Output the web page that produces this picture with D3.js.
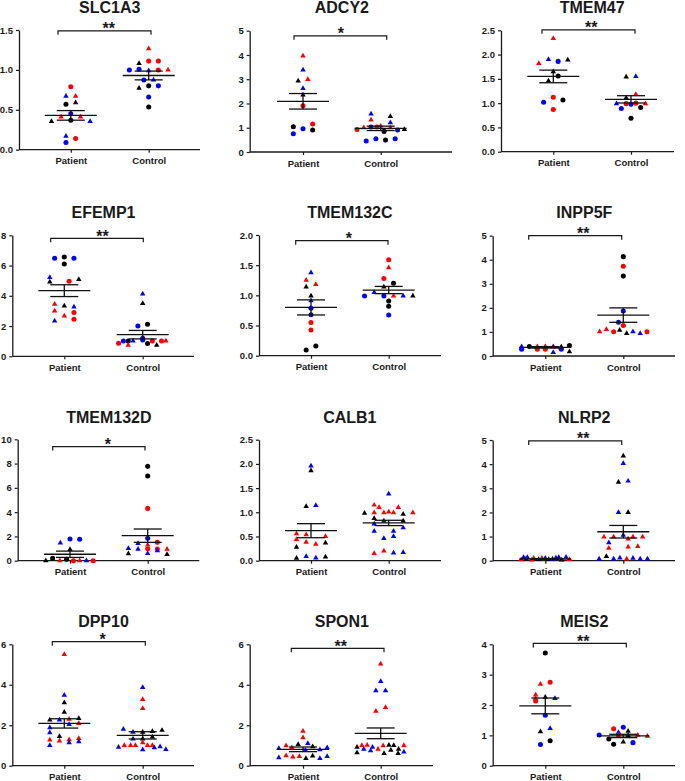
<!DOCTYPE html>
<html><head><meta charset="utf-8">
<script src="https://cdn.jsdelivr.net/npm/d3@7"></script>
<style>
body{margin:0;background:#fff}
svg text{font-family:"Liberation Sans",Arial,sans-serif;font-weight:bold;fill:#1a1a1a}
</style>
</head><body>
<svg id="c" width="685" height="781"></svg>
<script>
// ---------------- DATA ----------------
const genes = ["SLC1A3","ADCY2","TMEM47","EFEMP1","TMEM132C","INPP5F","TMEM132D","CALB1","NLRP2","DPP10","SPON1","MEIS2"];
const groups = ["Patient","Control"];
const yMax  = [1.5,5,2.5,8,2,5,10,2.5,5,6,6,4];
const yStep = [0.5,1,0.5,2,0.5,1,2,0.5,1,2,2,1];
const significance = ["**","*","**","**","*","**","*","","**","*","**","**"];
const bracketLevel = [1.49,4.79,2.51,7.8,1.906,5.0,9.4,null,4.96,6.13,5.8,4.03];
const patientMean = [0.43,2.09,1.55,4.34,0.80,0.36,0.53,0.62,0.07,2.09,0.81,1.97];
const patientSem  = [0.06,0.32,0.13,0.39,0.125,0.03,0.26,0.145,0.015,0.23,0.115,0.26];
const controlMean = [0.93,0.975,1.078,1.43,1.088,1.70,2.06,0.78,1.20,1.50,1.60,0.98];
const controlSem  = [0.055,0.09,0.075,0.28,0.06,0.30,0.55,0.055,0.26,0.18,0.265,0.055];

// points: [value, jitter slot, cohort (R/B/K), sample type (c = circle, t = triangle)]
const SLC1A3_patient = [[0.79,0,"R","c"],[0.67,-1,"B","t"],[0.67,1,"R","t"],[0.57,-1,"K","c"],[0.59,1,"K","t"],[0.41,-2,"R","t"],[0.45,0,"B","c"],[0.41,2,"R","t"],[0.355,-4,"K","t"],[0.37,0,"K","c"],[0.355,4,"B","t"],[0.17,-1,"B","t"],[0.14,1,"R","c"],[0.09,-1,"B","c"]];
const SLC1A3_control = [[1.266,0,"R","t"],[1.11,0,"R","c"],[1.11,2,"R","c"],[1.08,-2,"K","t"],[1.0,-4,"B","c"],[1.007,-2,"B","c"],[0.99,0,"B","t"],[1.0,2,"R","c"],[1.0,4,"R","t"],[0.873,-1,"B","c"],[0.873,1,"B","t"],[0.77,-2,"K","t"],[0.80,0,"K","c"],[0.80,2,"B","c"],[0.66,0,"B","c"],[0.535,0,"K","c"]];
const ADCY2_patient = [[3.96,0,"R","t"],[3.38,0,"B","t"],[2.93,-1,"K","t"],[2.99,1,"R","t"],[2.62,0,"B","t"],[2.35,0,"K","t"],[1.91,0,"R","c"],[1.04,-2,"K","c"],[1.15,2,"R","c"],[0.755,-2,"B","c"],[0.96,0,"B","c"],[0.906,2,"K","c"]];
const ADCY2_control = [[1.57,-2,"B","t"],[1.47,2,"K","t"],[1.32,-2,"R","t"],[1.21,2,"B","t"],[0.93,-4.9,"R","c"],[1.0,-3.5,"R","t"],[1.03,-2,"B","c"],[1.03,-0.8,"R","c"],[1.07,0,"R","t"],[1.0,2,"R","t"],[0.85,0.7,"K","c"],[0.906,3.5,"B","c"],[0.93,4.9,"K","t"],[0.45,-3,"B","c"],[0.55,-1,"B","c"],[0.49,1,"K","c"],[0.55,3,"B","c"]];
const TMEM47_patient = [[2.335,0,"R","t"],[1.82,-3,"R","t"],[1.90,-1,"B","t"],[1.86,1,"B","c"],[1.89,3,"K","t"],[1.65,0,"K","t"],[1.56,1,"K","c"],[1.46,-1,"K","t"],[1.02,-2,"B","c"],[1.12,0,"R","c"],[1.065,2,"K","c"],[0.87,0,"R","c"]];
const TMEM47_control = [[1.54,-1,"K","t"],[1.55,1,"B","t"],[1.18,1,"R","t"],[1.11,-1,"K","t"],[0.99,-3,"B","t"],[0.99,-1,"R","c"],[0.975,0,"B","c"],[1.0,1,"R","c"],[0.99,3,"R","t"],[0.89,-2,"B","c"],[0.91,2,"K","c"],[0.69,0,"K","c"]];
const EFEMP1_patient = [[6.48,-2,"B","c"],[6.57,0,"K","c"],[6.48,2,"B","c"],[6.10,0,"K","c"],[5.22,-3,"B","t"],[4.91,-3,"K","t"],[4.96,1,"R","c"],[5.09,3,"K","t"],[3.44,-2,"R","t"],[3.0,-2,"R","t"],[3.33,0,"K","t"],[3.26,2,"B","t"],[2.89,2,"R","c"],[2.67,0,"R","t"],[2.45,2,"R","c"],[2.34,-2,"B","t"]];
const EFEMP1_control = [[4.12,0,"B","t"],[3.50,0,"K","t"],[2.0,-1,"B","c"],[2.12,1,"K","c"],[1.19,0,"B","c"],[1.08,0,"B","c"],[0.86,-5,"R","c"],[1.01,-4,"B","c"],[1.01,-3,"K","c"],[1.01,-2,"B","t"],[0.73,-3,"R","t"],[1.01,2,"R","c"],[0.84,1,"K","c"],[1.01,3.9,"R","c"],[1.01,4.8,"R","t"],[0.73,2.9,"K","t"]];
const TMEM132C_patient = [[1.376,0,"B","t"],[1.25,-1,"R","t"],[1.18,1,"R","t"],[1.14,-1,"K","t"],[0.99,0,"K","t"],[0.91,0,"B","t"],[0.785,0,"B","c"],[0.68,0,"B","c"],[0.55,0,"R","c"],[0.425,0,"R","c"],[0.094,-1,"K","c"],[0.16,1,"K","c"]];
const TMEM132C_control = [[1.59,0,"R","c"],[1.46,0,"R","t"],[1.28,-1,"R","c"],[1.20,1,"K","c"],[1.14,-1,"K","t"],[0.99,-5,"B","c"],[1.05,-3,"B","t"],[0.99,-1,"B","c"],[0.99,1,"R","t"],[0.99,3,"B","t"],[0.99,5,"K","t"],[0.906,0,"K","c"],[0.82,0,"K","c"],[0.674,0,"B","c"]];
const INPP5F_patient = [[0.28,-4.9,"B","c"],[0.39,-4.9,"B","t"],[0.39,-3.3,"K","c"],[0.28,-1.65,"R","c"],[0.39,-1.65,"R","t"],[0.28,0,"R","c"],[0.40,0,"R","t"],[0.39,1.65,"B","t"],[0.15,1.65,"B","t"],[0.28,3.3,"B","c"],[0.38,3.3,"K","t"],[0.44,5,"K","c"],[0.18,5,"K","t"]];
const INPP5F_control = [[4.13,0,"K","c"],[3.73,0,"R","c"],[3.32,0,"K","c"],[1.87,0,"B","c"],[1.40,-1,"B","c"],[1.27,0,"R","c"],[1.01,-4.9,"R","t"],[1.11,-3.5,"R","t"],[1.01,-2,"R","c"],[1.07,-0.75,"K","t"],[0.94,0.7,"K","t"],[1.01,2,"B","t"],[0.94,3.5,"B","t"],[1.01,4.9,"R","c"]];
const TMEM132D_patient = [[1.79,0,"B","c"],[1.76,2,"B","c"],[1.46,-2,"B","t"],[0.93,0,"K","t"],[0.0,-5,"K","t"],[0.19,-3.6,"K","c"],[0.0,-2.1,"R","t"],[0.11,-0.7,"K","c"],[0.0,0.7,"R","c"],[0.0,2,"R","t"],[0.0,3.4,"B","t"],[0.0,4.8,"R","c"]];
const TMEM132D_control = [[7.77,0,"K","c"],[6.98,0,"K","c"],[4.31,0,"R","c"],[1.84,0,"B","c"],[1.43,-2,"B","t"],[1.51,2,"R","c"],[1.29,0,"R","t"],[1.02,-4,"B","t"],[0.96,-2,"B","t"],[0.99,0,"R","c"],[0.96,2,"R","c"],[0.96,4,"R","t"],[0.60,0,"B","t"],[0.58,-4,"K","t"],[0.52,4,"K","t"],[0.82,2,"B","t"]];
const CALB1_patient = [[1.96,0,"B","t"],[1.86,0,"K","t"],[1.12,-1,"K","t"],[1.14,1,"B","t"],[0.56,-3,"R","t"],[0.54,-1,"R","t"],[0.50,3,"R","t"],[0.44,-3,"R","t"],[0.385,-1,"R","t"],[0.34,1,"R","t"],[0.365,3,"K","t"],[0.28,-3,"K","t"],[0.05,-3,"K","t"],[0.09,-1,"B","t"],[0.06,1,"B","t"],[0.08,3,"K","t"]];
const CALB1_control = [[1.38,0,"B","t"],[1.15,-3,"R","t"],[1.10,-2,"R","t"],[1.10,2,"R","t"],[0.98,-5,"K","t"],[0.99,-3,"R","t"],[0.99,-1,"R","t"],[1.01,0,"R","t"],[0.99,1,"R","t"],[0.96,3,"K","t"],[0.99,5,"R","t"],[0.875,-3,"K","t"],[0.76,-3,"B","t"],[0.82,-1,"B","t"],[0.82,3,"K","t"],[0.61,-3,"B","t"],[0.61,1,"B","t"],[0.68,3,"B","t"],[0.46,-1,"B","t"],[0.50,1,"B","t"],[0.15,-3,"R","t"],[0.20,-1,"R","t"],[0.16,1,"B","t"],[0.17,3,"B","t"]];
const NLRP2_patient = [[0.04,-5,"R","t"],[0.14,-4.5,"B","t"],[0.07,-4,"K","t"],[0.14,-3.7,"B","t"],[0.03,-2.8,"R","t"],[0.10,-2.4,"R","t"],[0.05,-1.4,"K","t"],[0.10,-0.7,"R","t"],[0.10,0,"B","t"],[0.05,0.7,"K","t"],[0.07,1.5,"B","t"],[0.12,2.2,"B","t"],[0.14,2.8,"B","t"],[0.03,3.4,"K","t"],[0.15,4.3,"B","t"],[0.05,5,"R","t"]];
const NLRP2_control = [[4.34,0,"K","t"],[4.03,0,"B","t"],[3.30,1,"B","t"],[3.25,-1,"K","t"],[2.0,-1,"B","t"],[2.0,1,"K","t"],[1.06,0,"B","t"],[0.99,-4,"R","t"],[0.99,-2,"R","t"],[0.99,2,"R","t"],[0.99,4,"R","t"],[0.90,1,"R","t"],[0.75,-3,"B","t"],[0.52,-3,"R","t"],[0.57,1,"R","t"],[0.59,3,"R","t"],[0.18,-3.5,"K","t"],[0.07,-5,"B","t"],[0.07,-2,"B","t"],[0.12,-0.7,"B","t"],[0.07,0.7,"R","t"],[0.10,2,"B","t"],[0.07,3.5,"B","t"],[0.07,5,"B","t"]];
const DPP10_patient = [[5.5,0,"R","t"],[3.49,0,"B","t"],[3.11,0,"K","t"],[2.64,0,"K","t"],[2.30,1,"R","t"],[2.26,-3,"K","t"],[2.26,-1,"B","t"],[2.34,3,"K","t"],[2.09,3,"R","t"],[2.04,1,"B","t"],[1.88,-3,"B","t"],[1.63,-3,"B","t"],[1.45,-1,"K","t"],[1.27,-3,"R","t"],[1.22,-1,"R","t"],[1.29,1,"R","t"],[1.35,3,"R","t"],[1.0,-3,"B","t"],[1.14,1,"B","t"],[1.19,3,"B","t"]];
const DPP10_control = [[3.87,0,"B","t"],[3.28,0,"R","t"],[2.83,0,"R","t"],[1.80,-4,"B","t"],[1.66,-2,"B","t"],[1.66,0,"K","t"],[1.70,2,"K","t"],[1.75,4,"K","t"],[1.42,2,"K","t"],[1.32,0,"K","t"],[1.32,-2,"B","t"],[1.14,0,"R","t"],[0.92,-5,"B","t"],[1.0,-3.8,"R","t"],[1.0,-2.5,"R","t"],[1.0,-1.5,"R","t"],[1.0,1,"R","t"],[1.0,2,"R","t"],[0.79,0,"B","t"],[0.89,2.4,"B","t"],[0.94,3.6,"B","t"],[0.81,4.8,"B","t"]];
const SPON1_patient = [[1.71,0,"R","t"],[1.38,0,"R","t"],[1.10,1,"B","t"],[1.05,-1,"K","t"],[0.99,-3.5,"R","t"],[0.89,-2.3,"R","t"],[0.86,-5,"B","t"],[0.94,2,"K","t"],[0.77,0.5,"B","t"],[0.79,3.5,"B","t"],[0.89,5,"B","t"],[0.40,-5,"B","t"],[0.49,-3.5,"R","t"],[0.43,-2.1,"R","t"],[0.46,-0.75,"R","t"],[0.36,0.6,"K","t"],[0.48,2,"K","t"],[0.36,3.5,"B","t"],[0.46,5,"B","t"]];
const SPON1_control = [[5.03,0,"R","t"],[4.17,0,"B","t"],[3.71,-1,"B","t"],[3.71,1,"B","t"],[2.88,1,"R","t"],[2.70,-1,"R","t"],[0.91,-4.9,"K","t"],[1.0,-3.9,"R","t"],[1.02,-2.8,"R","t"],[0.82,-3.5,"B","t"],[0.91,-1.7,"B","t"],[0.74,-2.1,"B","t"],[0.82,-0.55,"R","t"],[0.99,0.5,"R","t"],[1.02,1.7,"K","t"],[1.0,2.7,"K","t"],[1.0,4.8,"R","t"],[0.77,2.1,"K","t"],[0.82,3.7,"K","t"],[0.61,0.7,"K","t"],[0.61,3.6,"K","t"],[0.68,4.8,"B","t"],[0.64,-4.9,"K","t"]];
const MEIS2_patient = [[3.71,0,"K","c"],[2.75,1,"R","c"],[2.69,-1,"R","t"],[2.33,-2,"R","t"],[2.22,-2,"R","t"],[2.13,-2,"R","c"],[2.26,0,"K","t"],[2.22,2,"B","t"],[1.66,0,"B","c"],[1.23,1,"B","t"],[1.12,-1,"K","t"],[0.82,1,"K","c"],[0.70,-1,"B","c"]];
const MEIS2_control = [[1.27,0,"B","c"],[1.22,-2,"R","c"],[1.10,-1,"B","t"],[1.14,1,"K","t"],[1.01,-5,"B","c"],[1.01,-1,"R","c"],[1.01,3,"R","t"],[0.97,5,"R","t"],[0.88,-3,"K","c"],[0.71,-2,"K","c"],[0.78,0,"K","t"],[0.76,2,"B","c"],[1.0,1,"K","t"]];

const pointSets = [
  [SLC1A3_patient,SLC1A3_control],[ADCY2_patient,ADCY2_control],[TMEM47_patient,TMEM47_control],
  [EFEMP1_patient,EFEMP1_control],[TMEM132C_patient,TMEM132C_control],[INPP5F_patient,INPP5F_control],
  [TMEM132D_patient,TMEM132D_control],[CALB1_patient,CALB1_control],[NLRP2_patient,NLRP2_control],
  [DPP10_patient,DPP10_control],[SPON1_patient,SPON1_control],[MEIS2_patient,MEIS2_control]];

// ---------------- LAYOUT (pixels) ----------------
const panelFrames = [
  {left:19,   right:200, top:30,    bottom:149.7, cP:70.8,  cC:148.7, bx1:58,    bx2:151},
  {left:249.7,right:452, top:30.7,  bottom:152,   cP:303,   cC:380.7, bx1:294,   bx2:386.7},
  {left:501,  right:674, top:30.3,  bottom:151.7, cP:553.3, cC:631,   bx1:542,   bx2:635},
  {left:12.3, right:194, top:235.3, bottom:356.3, cP:64.3,  cC:142.7, bx1:50.7,  bx2:143.3},
  {left:259,  right:441, top:235,   bottom:355.7, cP:311,   cC:388.7, bx1:295.7, bx2:388},
  {left:492.7,right:675, top:235.7, bottom:356,   cP:545.3, cC:623.3, bx1:528.7, bx2:621.7},
  {left:17.7, right:199.3,top:439.3,bottom:560.7, cP:70,    cC:147.7, bx1:52.7,  bx2:145},
  {left:259,  right:441, top:439.7, bottom:560.7, cP:311,   cC:388.7, bx1:0,     bx2:0},
  {left:492.7,right:675, top:440,   bottom:560.7, cP:545.3, cC:623.3, bx1:528.7, bx2:621.7},
  {left:12.3, right:194, top:644.3, bottom:765.7, cP:64.3,  cC:142.7, bx1:52.3,  bx2:145.3},
  {left:249.7,right:433, top:644.3, bottom:765.7, cP:303,   cC:380.7, bx1:291.3, bx2:384},
  {left:492.7,right:675, top:644.3, bottom:765.7, cP:545.3, cC:623.3, bx1:533.3, bx2:626.3}
];
const titleBaseline = [13,218,423,627];
const slotW = 4.83;

// ---------------- DRAW ----------------
const svg = d3.select("#c");
const cohortColor = d3.scaleOrdinal().domain(["R","B","K"]).range(["#ff0000","#0000ff","#000000"]);
const typeSymbol = d3.scaleOrdinal().domain(["c","t"]).range([d3.symbolCircle,d3.symbolTriangle]);
const typeSize = d3.scaleOrdinal().domain(["c","t"]).range([20,13]);
const AX = "#1a1a1a";

genes.forEach((gene,i)=>{
  const f = panelFrames[i];
  const G = svg.append("g");
  const y = d3.scaleLinear().domain([0,yMax[i]]).range([f.bottom,f.top]);
  const x = d3.scalePoint().domain(groups).range([f.cP,f.cC]);
  const jit = d3.scaleLinear().domain([0,1]).range([0,slotW]);

  // y axis
  const ticks = d3.range(0,yMax[i]+1e-9,yStep[i]);
  const ya = G.append("g").attr("transform",`translate(${f.left},0)`)
    .call(d3.axisLeft(y).tickValues(ticks).tickSize(3).tickSizeOuter(0).tickPadding(3)
      .tickFormat(d3.format(yStep[i]<1?".1f":"d")));
  ya.attr("font-family",null).attr("font-size",null);
  ya.select(".domain").attr("stroke",AX).attr("stroke-width",1.3);
  ya.selectAll(".tick line").attr("stroke",AX).attr("stroke-width",1.2);
  ya.selectAll(".tick text").style("font-size","9.5px");

  // x axis
  G.append("line").attr("x1",f.left).attr("x2",f.right).attr("y1",f.bottom).attr("y2",f.bottom)
    .attr("stroke",AX).attr("stroke-width",1.3);
  const xa = G.append("g").attr("transform",`translate(0,${f.bottom})`)
    .call(d3.axisBottom(x).tickSize(3).tickPadding(5));
  xa.attr("font-family",null).attr("font-size",null);
  xa.select(".domain").remove();
  xa.selectAll(".tick line").attr("stroke",AX).attr("stroke-width",1.2);
  xa.selectAll(".tick text").style("font-size","9.5px");

  // title
  G.append("text").attr("x",(f.cP+f.cC)/2).attr("y",titleBaseline[Math.floor(i/3)])
    .attr("text-anchor","middle").style("font-size","16px").text(gene);

  // points
  groups.forEach((grp,gi)=>{
    G.append("g").selectAll("path").data(pointSets[i][gi]).join("path")
      .attr("transform",d=>`translate(${x(grp)+jit(d[1])},${y(d[0])})`)
      .attr("d",d=>d3.symbol().type(typeSymbol(d[3])).size(typeSize(d[3]))())
      .attr("fill",d=>cohortColor(d[2]));
  });

  // mean and SEM
  const stats = [[patientMean[i],patientSem[i]],[controlMean[i],controlSem[i]]];
  groups.forEach((grp,gi)=>{
    const cx = x(grp), m = stats[gi][0], s = stats[gi][1];
    const L = G.append("g").attr("stroke","#111").attr("stroke-width",1.3).attr("fill","none");
    L.append("line").attr("x1",cx-26).attr("x2",cx+26).attr("y1",y(m)).attr("y2",y(m));
    L.append("line").attr("x1",cx-14).attr("x2",cx+14).attr("y1",y(m+s)).attr("y2",y(m+s));
    L.append("line").attr("x1",cx-14).attr("x2",cx+14).attr("y1",y(m-s)).attr("y2",y(m-s));
    L.append("line").attr("x1",cx).attr("x2",cx).attr("y1",y(m+s)).attr("y2",y(m-s));
  });

  // significance bracket
  if (bracketLevel[i] !== null) {
    const by = y(bracketLevel[i]);
    G.append("path").attr("d",`M${f.bx1},${by+4}V${by}H${f.bx2}V${by+4}`)
      .attr("fill","none").attr("stroke",AX).attr("stroke-width",1.2);
    G.append("text").attr("x",(f.cP+f.cC)/2-1).attr("y",by+3.5).attr("text-anchor","middle")
      .style("font-size","16px").text(significance[i]);
  }
});
</script>
</body></html>
